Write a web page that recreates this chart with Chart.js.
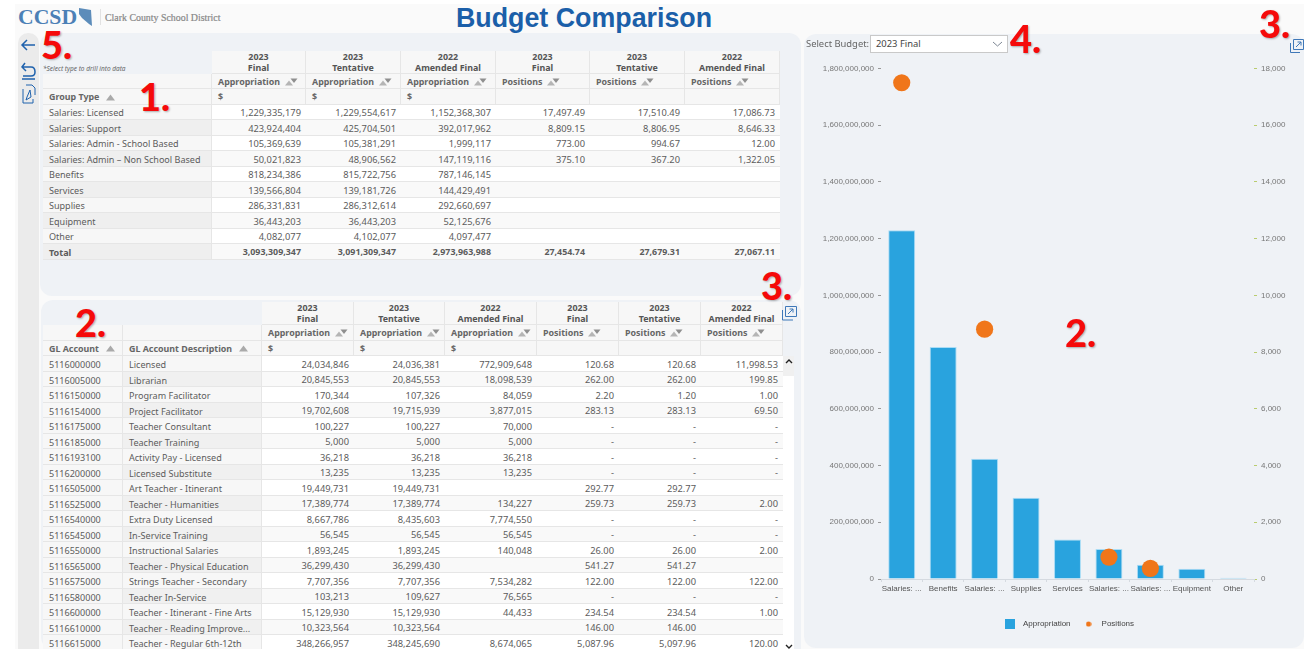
<!DOCTYPE html>
<html><head><meta charset="utf-8">
<script src="https://cdn.jsdelivr.net/npm/chart.js@4"></script>
<style>
html,body{margin:0;padding:0;background:#fff;overflow:hidden;width:1304px;height:649px}
*{box-sizing:border-box}
#page{position:absolute;left:15px;top:4px;right:0;bottom:0;background:#fafafa}
.abs{position:absolute}
.panel{position:absolute;background:#eff2f6;border-radius:12px}
.c{position:absolute;font:9.3px/1 "Noto Sans",sans-serif;color:#5c5c5c;white-space:nowrap;overflow:hidden;border-right:1px solid #e6e6e6;border-bottom:1px solid #e6e6e6;display:flex;align-items:center;padding:2px 5px 0 5px}
.lab{font-size:9.05px;padding-left:6px}
.num{justify-content:flex-end}
.hd{background:#f7f7f7;font-weight:700;color:#666;font-size:8.9px;padding-left:6px}
.yr{justify-content:center;text-align:center;line-height:11px;color:#555;font-weight:700;white-space:normal;padding:0}
.mark{position:absolute;font:900 38px/1 Lato,sans-serif;color:#f50a0a;text-shadow:1px 1px 2px rgba(0,0,0,.3)}
svg{position:absolute;overflow:visible}
</style></head><body>
<div id="page"></div>
<div class="abs" style="left:18px;top:7px;font:700 21.7px/20px 'Liberation Serif',serif;color:#4c80b6">CCSD</div>
<svg style="left:78px;top:7px" width="15" height="20"><path d="M1 1 L13 3 L14 19 L11 17 L4 11 L1 7Z" fill="#5c8cba"/></svg>
<div class="abs" style="left:100px;top:9px;width:1px;height:16px;background:#e2e2e2"></div>
<div class="abs" style="left:105px;top:11px;font:400 9.9px/13px 'Liberation Serif',serif;color:#888;-webkit-text-stroke:.2px #888">Clark County School District</div>
<div class="abs" style="left:456px;top:3px;font:700 26.8px/30px 'Liberation Sans',sans-serif;color:#1b5fa9">Budget Comparison</div>

<div class="abs" style="left:18px;top:33px;width:21px;height:616px;background:#ebebeb;border-radius:10px 10px 0 0"></div>
<svg style="left:21px;top:37px" width="16" height="70" fill="none" stroke="#1f62ad" stroke-width="1.5">
<path d="M1 8 H14 M6 3 L1 8 L6 13"/>
<path d="M4 26 L1 30 L5 34 M1 30 H10 Q14 30 14 35 Q14 39 10 39 H2 M1 42 H14"/>
<path d="M2 52 L2 66 H12 V62 M5 48 H11 L14 51 V58 M6 60 L9 53 L10 60 L5 63 Z" stroke-width="1"/>
</svg>

<div class="panel" style="left:40px;top:33px;width:761px;height:263px"></div>
<div class="panel" style="left:41px;top:300px;width:760px;height:349px;border-radius:12px 12px 0 12px"></div>
<div class="panel" style="left:804px;top:34px;width:500px;height:614px"></div>
<div id="topT"></div><div id="botT"></div>

<div class="abs" style="left:43px;top:64px;font:italic 6.5px/9px 'Noto Sans',sans-serif;color:#666">*Select type to drill into data</div>

<div class="abs" style="left:783px;top:356px;width:11px;height:293px;background:#fff"></div>
<div class="abs" style="left:783px;top:356px;width:11px;height:20px;background:#f0f0f0"></div>
<svg style="left:785px;top:359px" width="8" height="5" fill="none" stroke="#222" stroke-width="1.4"><path d="M1 4 L4 1 L7 4"/></svg>
<svg style="left:785px;top:644px" width="8" height="5" fill="none" stroke="#222" stroke-width="1.4"><path d="M1 1 L4 4 L7 1"/></svg>

<canvas id="chart" class="abs" style="left:804px;top:34px" width="500" height="614"></canvas>

<div class="abs" style="left:806px;top:38px;font:9.4px/12px 'Noto Sans',sans-serif;color:#666">Select Budget:</div>
<div class="abs" style="left:870px;top:35px;width:138px;height:18px;background:#fff;border:1px solid #c9c9c9;font:9.4px/16px 'Noto Sans',sans-serif;color:#444;padding-left:5px">2023 Final</div>
<svg style="left:992px;top:41px" width="11" height="6" fill="none" stroke="#7d8794"><path d="M1 1 L5.5 5 L10 1"/></svg>

<svg style="left:1290px;top:39px" width="14" height="15" fill="none" stroke="#3f78b8"><path d="M3.5 .5 H13.5 V10.5 H3.5Z M.5 4 V13.5 H10 M6 8 L11 3 M7.5 3 H11 V6.5"/></svg>
<svg style="left:782px;top:306px" width="15" height="15" fill="none" stroke="#3f78b8"><path d="M3.5 .5 H14.5 V10.5 H3.5Z M.5 4 V14 H11 M6 8 L11 3 M7.5 3 H11 V6.5"/></svg>

<div class="mark" style="left:139px;top:77px">1.</div>
<div class="mark" style="left:75px;top:303px">2.</div>
<div class="mark" style="left:1065px;top:313px">2.</div>
<div class="mark" style="left:761px;top:266px">3.</div>
<div class="mark" style="left:1259px;top:4px">3.</div>
<div class="mark" style="left:1010px;top:19px">4.</div>
<div class="mark" style="left:41px;top:25px">5.</div>

<script>
// ---- Chart data ----
const categories = ['Salaries: ...','Benefits','Salaries: ...','Supplies','Services','Salaries: ...','Salaries: ...','Equipment','Other'];
const appropriation = [1229335179,818234386,423924404,286331831,139566804,105369639,50021823,36443203,4082077];
const positions = [17497.49,null,8809.15,null,null,773,375.10,null,null];

// ---- Table data ----
const yearHeaders = [['2023','Final'],['2023','Tentative'],['2022','Amended Final'],['2023','Final'],['2023','Tentative'],['2022','Amended Final']];
const measureHeaders = ['Appropriation','Appropriation','Appropriation','Positions','Positions','Positions'];
const unitHeaders = ['$','$','$','','',''];

const groupTypes = ['Salaries: Licensed','Salaries: Support','Salaries: Admin - School Based','Salaries: Admin \u2013 Non School Based','Benefits','Services','Supplies','Equipment','Other','Total'];
const groupFinal = ['1,229,335,179','423,924,404','105,369,639','50,021,823','818,234,386','139,566,804','286,331,831','36,443,203','4,082,077','3,093,309,347'];
const groupTentative = ['1,229,554,617','425,704,501','105,381,291','48,906,562','815,722,756','139,181,726','286,312,614','36,443,203','4,102,077','3,091,309,347'];
const groupAmended = ['1,152,368,307','392,017,962','1,999,117','147,119,116','787,146,145','144,429,491','292,660,697','52,125,676','4,097,477','2,973,963,988'];
const groupPosFinal = ['17,497.49','8,809.15','773.00','375.10','','','','','','27,454.74'];
const groupPosTentative = ['17,510.49','8,806.95','994.67','367.20','','','','','','27,679.31'];
const groupPosAmended = ['17,086.73','8,646.33','12.00','1,322.05','','','','','','27,067.11'];

const glAccounts = ['5116000000','5116005000','5116150000','5116154000','5116175000','5116185000','5116193100','5116200000','5116505000','5116525000','5116540000','5116545000','5116550000','5116565000','5116575000','5116580000','5116600000','5116610000','5116615000'];
const glDescriptions = ['Licensed','Librarian','Program Facilitator','Project Facilitator','Teacher Consultant','Teacher Training','Activity Pay - Licensed','Licensed Substitute','Art Teacher - Itinerant','Teacher - Humanities','Extra Duty Licensed','In-Service Training','Instructional Salaries','Teacher - Physical Education','Strings Teacher - Secondary','Teacher In-Service','Teacher - Itinerant - Fine Arts','Teacher - Reading Improve...','Teacher - Regular 6th-12th'];
const glFinal = ['24,034,846','20,845,553','170,344','19,702,608','100,227','5,000','36,218','13,235','19,449,731','17,389,774','8,667,786','56,545','1,893,245','36,299,430','7,707,356','103,213','15,129,930','10,323,564','348,266,957'];
const glTentative = ['24,036,381','20,845,553','107,326','19,715,939','100,227','5,000','36,218','13,235','19,449,731','17,389,774','8,435,603','56,545','1,893,245','36,299,430','7,707,356','109,627','15,129,930','10,323,564','348,245,690'];
const glAmended = ['772,909,648','18,098,539','84,059','3,877,015','70,000','5,000','36,218','13,235','','134,227','7,774,550','56,545','140,048','','7,534,282','76,565','44,433','','8,674,065'];
const glPosFinal = ['120.68','262.00','2.20','283.13','-','-','-','-','292.77','259.73','-','-','26.00','541.27','122.00','-','234.54','146.00','5,087.96'];
const glPosTentative = ['120.68','262.00','1.20','283.13','-','-','-','-','292.77','259.73','-','-','26.00','541.27','122.00','-','234.54','146.00','5,097.96'];
const glPosAmended = ['11,998.53','199.85','1.00','69.50','-','-','-','-','','2.00','-','-','2.00','','122.00','-','1.00','','120.00'];

// ---- Table drawing ----
function cell(host,x,y,w,h,html,cls,bg){
  const d=document.createElement('div');
  d.className='c '+(cls||'');
  d.style.cssText=`left:${x}px;top:${y}px;width:${w}px;height:${h}px;`+(bg?`background:${bg};`:'');
  d.innerHTML=html;host.appendChild(d);return d;
}
const sortIcon=`<svg style="position:static;margin-left:5px;flex:none" width="13" height="8"><path d="M0 7.5 L4 2.5 L8 7.5Z" fill="#b5b5b5"/><path d="M5.5 .5 H12.5 L9 5Z" fill="#8f8f8f"/></svg>`;
const upIcon=`<svg style="position:static;margin-left:7px;flex:none" width="10" height="7"><path d="M0 6.5 L4.5 .5 L9 6.5Z" fill="#aaa"/></svg>`;
function headers(host,xs,first,ys){
  for(let i=0;i<6;i++){
    const x=xs[first+i],w=xs[first+i+1]-x;
    cell(host,x,ys[0],w,ys[1]-ys[0],yearHeaders[i].join('<br>'),'hd yr');
    cell(host,x,ys[1],w,ys[2]-ys[1],measureHeaders[i]+sortIcon,'hd');
    cell(host,x,ys[2],w,ys[3]-ys[2],unitHeaders[i],'hd');
  }
}
const topX=[43,212,306,401,496,590,685,780];
const topY=[50.7,73.7,89.3,104.7];
const topHost=document.getElementById('topT');
cell(topHost,topX[0],topY[1],topX[1]-topX[0],topY[2]-topY[1],'','hd');
cell(topHost,topX[0],topY[2],topX[1]-topX[0],topY[3]-topY[2],'Group Type'+upIcon,'hd');
headers(topHost,topX,1,topY);
const topCols=[groupFinal,groupTentative,groupAmended,groupPosFinal,groupPosTentative,groupPosAmended];
groupTypes.forEach((g,r)=>{
  const y=topY[3]+r*15.5,total=r===groupTypes.length-1,alt=r%2===1;
  const a=cell(topHost,topX[0],y,topX[1]-topX[0],15.5,g,'lab',alt?'#efefef':'#f7f7f7');
  if(total)a.style.fontWeight=700;
  topCols.forEach((col,i)=>{
    const d=cell(topHost,topX[i+1],y,topX[i+2]-topX[i+1],15.5,col[r],'num',alt?'#f9f9f9':'#fff');
    d.style.borderRight='none';
    if(total){d.style.fontWeight=700;d.style.fontSize='8.9px';}
  });
});
const botX=[43,123,262,354,445,537,619,701,783];
const botY=[302.3,325.3,340.7,356.3];
const botHost=document.getElementById('botT');
[0,1].forEach(i=>{
  cell(botHost,botX[i],botY[1],botX[i+1]-botX[i],botY[2]-botY[1],'','hd');
  cell(botHost,botX[i],botY[2],botX[i+1]-botX[i],botY[3]-botY[2],['GL Account','GL Account Description'][i]+upIcon,'hd');
});
headers(botHost,botX,2,botY);
const botCols=[glFinal,glTentative,glAmended,glPosFinal,glPosTentative,glPosAmended];
glAccounts.forEach((g,r)=>{
  const y=botY[3]+r*15.5,alt=r%2===1;
  cell(botHost,botX[0],y,botX[1]-botX[0],15.5,g,'lab','#f7f7f7');
  cell(botHost,botX[1],y,botX[2]-botX[1],15.5,glDescriptions[r],'lab',alt?'#f0f0f0':'#f7f7f7');
  botCols.forEach((col,i)=>{
    const d=cell(botHost,botX[i+2],y,botX[i+3]-botX[i+2],15.5,col[r],'num',alt?'#f9f9f9':'#fff');
    d.style.borderRight='none';
  });
});

// ---- Chart ----
function swatch(w,draw){const c=document.createElement('canvas');c.width=w;c.height=w;draw(c.getContext('2d'));return c;}
const barSwatch=swatch(10,g=>{g.fillStyle='#29a3de';g.fillRect(0,0,10,10);});
const dotSwatch=swatch(6,g=>{g.fillStyle='#f0761a';g.beginPath();g.arc(3,3,2.6,0,7);g.fill();});
const fmt=v=>Number(v).toLocaleString('en-US');
const axisFont={family:'"Liberation Sans",sans-serif',size:8};
new Chart(document.getElementById('chart'),{
  data:{labels:categories,datasets:[
    {type:'line',label:'Positions',data:positions,yAxisID:'y1',showLine:false,pointRadius:8.6,pointHoverRadius:8.6,backgroundColor:'#f0761a',borderColor:'#f0761a',pointBorderWidth:0,order:1},
    {type:'bar',label:'Appropriation',data:appropriation,yAxisID:'y',backgroundColor:'#29a3de',borderColor:'#a9dcf5',borderWidth:{top:1,left:1,right:1,bottom:0},barPercentage:.65,categoryPercentage:1,order:2}
  ]},
  options:{
    responsive:false,animation:false,
    layout:{padding:{top:34.5,bottom:10,left:0,right:0}},
    plugins:{tooltip:{enabled:false},legend:{position:'bottom',fullSize:false,reverse:false,
      labels:{usePointStyle:true,pointStyleWidth:18,boxHeight:10,padding:9,color:'#444',font:axisFont,
        generateLabels:()=>[
          {text:'Appropriation',pointStyle:barSwatch,fillStyle:'#29a3de',strokeStyle:'#29a3de',lineWidth:0,fontColor:'#444',datasetIndex:1},
          {text:'Positions',pointStyle:dotSwatch,fillStyle:'#f0761a',strokeStyle:'#f0761a',lineWidth:0,fontColor:'#444',datasetIndex:0}
        ]}}},
    scales:{
      x:{grid:{drawOnChartArea:false,color:'#d5dae0',tickLength:3,offset:true},border:{color:'#d5dae0'},
        ticks:{font:axisFont,color:'#555',autoSkip:false,maxRotation:0,minRotation:0,padding:2},
        afterFit:s=>{s.height=32;}},
      y:{position:'left',min:0,max:1800000000,grid:{drawOnChartArea:false,color:'#999',tickLength:3},border:{display:false},
        ticks:{stepSize:200000000,font:axisFont,color:'#777',padding:4,callback:fmt},
        afterFit:s=>{s.width=77;}},
      y1:{position:'right',min:0,max:18000,grid:{drawOnChartArea:false,color:'#b9cc6e',tickLength:3},border:{display:false},
        ticks:{stepSize:2000,font:axisFont,color:'#777',padding:4,callback:fmt},
        afterFit:s=>{s.width=50;}}
    }
  }
});
</script>
</body></html>
